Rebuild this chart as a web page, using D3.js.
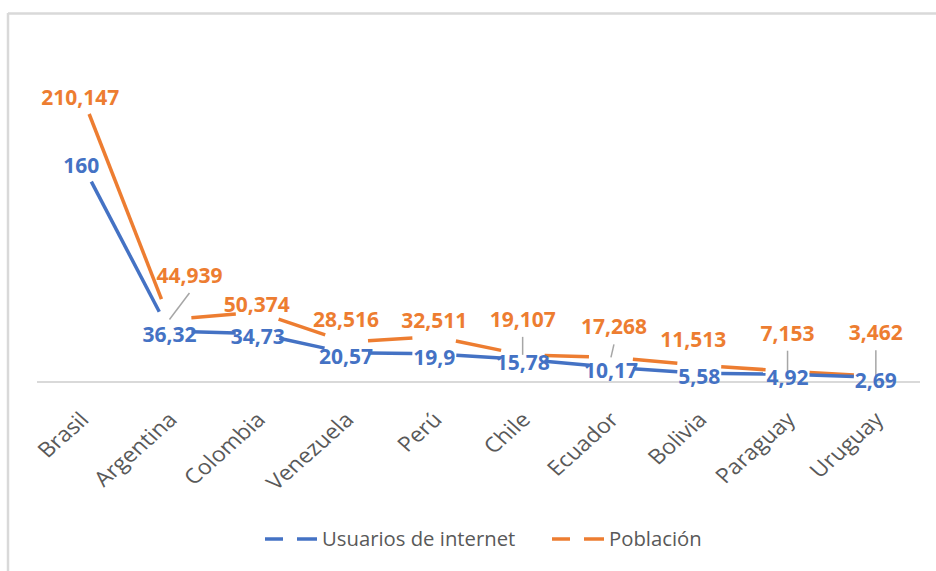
<!DOCTYPE html>
<html>
<head>
<meta charset="utf-8">
<script src="https://cdn.jsdelivr.net/npm/d3@7"></script>
<style>
  html, body { margin: 0; padding: 0; background: #fff; }
  svg { display: block; }
</style>
</head>
<body>
<svg id="chart" width="936" height="571"></svg>
<script>
// ---- data ----
const categories = ["Brasil", "Argentina", "Colombia", "Venezuela", "Perú", "Chile", "Ecuador", "Bolivia", "Paraguay", "Uruguay"];
const usuarios = [160, 36.32, 34.73, 20.57, 19.9, 15.78, 10.17, 5.58, 4.92, 2.69];
const poblacion = [210.147, 44.939, 50.374, 28.516, 32.511, 19.107, 17.268, 11.513, 7.153, 3.462];
const seriesNames = ["Usuarios de internet", "Población"];

// ---- layout (label nudges, leader lines) ----
const poblacionNudge = [[-1, 0], [20, -47.5], [-1, -11], [0, -26], [0, -20], [0, -39], [3, -34], [-6, -29], [0, -41.5], [0, -47]];
const poblacionLeader = [false, true, false, false, false, true, true, false, true, true];

const BLUE = "#4472C4", ORANGE = "#ED7D31", GRAY_TXT = "#595959", GRID = "#D9D9D9";
const svg = d3.select("#chart");

// chart border (top and left visible)
svg.append("line").attr("x1", 8).attr("x2", 936).attr("y1", 13.5).attr("y2", 13.5)
  .attr("stroke", GRID).attr("stroke-width", 2.5);
svg.append("line").attr("x1", 8).attr("x2", 8).attr("y1", 13).attr("y2", 571)
  .attr("stroke", GRID).attr("stroke-width", 2.5);

const x = d3.scaleBand().domain(categories).range([37, 920]);
const cx = c => x(c) + x.bandwidth() / 2;
const y = d3.scaleLinear().domain([0, 250]).range([381, 39]);

// x axis line
svg.append("line").attr("x1", 37).attr("x2", 920).attr("y1", y(0) + 1).attr("y2", y(0) + 1)
  .attr("stroke", GRID).attr("stroke-width", 1.8);

// category labels (rotated, slightly stretched horizontally as in the reference)
svg.append("g").selectAll("text").data(categories).join("text")
  .attr("transform", d => `translate(${cx(d) + 9},${y(0) + 40}) scale(1.12,1) rotate(-45)`)
  .attr("text-anchor", "end")
  .attr("font-family", "'Open Sans', sans-serif")
  .attr("font-size", 20.8)
  .attr("fill", GRAY_TXT)
  .text(d => d);

const GAP = 22;
function drawSeries(values, color) {
  const pts = values.map((v, i) => [cx(categories[i]), y(v)]);
  const g = svg.append("g");
  for (let i = 0; i < pts.length - 1; i++) {
    const [x0, y0] = pts[i], [x1, y1] = pts[i + 1];
    const L = Math.hypot(x1 - x0, y1 - y0);
    const ux = (x1 - x0) / L, uy = (y1 - y0) / L;
    g.append("line")
      .attr("x1", x0 + ux * GAP).attr("y1", y0 + uy * GAP)
      .attr("x2", x1 - ux * GAP).attr("y2", y1 - uy * GAP)
      .attr("stroke", color).attr("stroke-width", 3.5).attr("stroke-linecap", "butt");
  }
  return pts;
}

const fmt = v => String(v).replace(".", ",");

const pPts = drawSeries(poblacion, ORANGE);
const uPts = drawSeries(usuarios, BLUE);

// leader lines
poblacion.forEach((v, i) => {
  if (!poblacionLeader[i]) return;
  const [px, py] = pPts[i];
  const lx = px + poblacionNudge[i][0];
  const capC = py + 3.5 + poblacionNudge[i][1];
  svg.append("line")
    .attr("x1", px).attr("y1", py)
    .attr("x2", lx).attr("y2", capC + 7.5 + 10)
    .attr("stroke", "#A6A6A6").attr("stroke-width", 1.5);
});

// data labels
const labelFont = "'Open Sans', sans-serif";
svg.append("g").selectAll("text").data(poblacion).join("text")
  .attr("x", (d, i) => pPts[i][0] + poblacionNudge[i][0])
  .attr("y", (d, i) => pPts[i][1] + 3.5 + poblacionNudge[i][1] + 7.5)
  .attr("text-anchor", "middle")
  .attr("font-family", labelFont).attr("font-weight", "bold").attr("font-size", 21)
  .attr("fill", ORANGE)
  .text(d => fmt(d));

svg.append("g").selectAll("text").data(usuarios).join("text")
  .attr("x", (d, i) => uPts[i][0])
  .attr("y", (d, i) => uPts[i][1] + 3.5 + 7.5)
  .attr("text-anchor", "middle")
  .attr("font-family", labelFont).attr("font-weight", "bold").attr("font-size", 21)
  .attr("fill", BLUE)
  .text(d => fmt(d));

// legend
const legend = svg.append("g").attr("font-family", "'Open Sans', sans-serif").attr("font-size", 20.3).attr("fill", GRAY_TXT);
const legendItems = [
  { name: seriesNames[0], color: BLUE, x0: 265 },
  { name: seriesNames[1], color: ORANGE, x0: 552 }
];
legendItems.forEach(it => {
  legend.append("line").attr("x1", it.x0).attr("x2", it.x0 + 18).attr("y1", 539).attr("y2", 539)
    .attr("stroke", it.color).attr("stroke-width", 3.5);
  legend.append("line").attr("x1", it.x0 + 32).attr("x2", it.x0 + 52).attr("y1", 539).attr("y2", 539)
    .attr("stroke", it.color).attr("stroke-width", 3.5);
  legend.append("text").attr("x", it.x0 + 57).attr("y", 546).text(it.name);
});
</script>
</body>
</html>
